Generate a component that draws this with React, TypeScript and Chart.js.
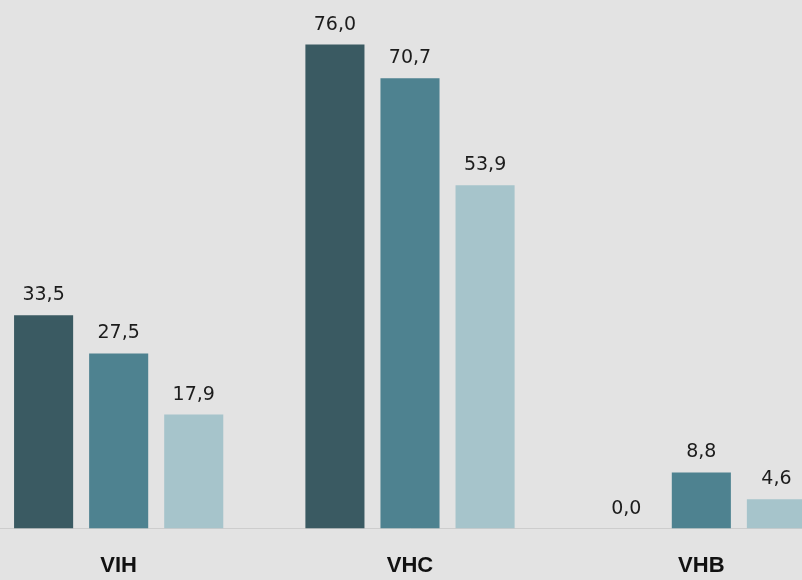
import React, { useEffect, useRef } from "react";
import { Chart, registerables } from "chart.js";

Chart.register(...registerables);

const categories = ["VIH", "VHC", "VHB"];
const series1 = [33.5, 76.0, 0.0];
const series2 = [27.5, 70.7, 8.8];
const series3 = [17.9, 53.9, 4.6];
const seriesNames = ["Série 1", "Série 2", "Série 3"];
const seriesColors = ["#3a5a62", "#4e8290", "#a6c4cb"];

const valueLabels = {
  id: "valueLabels",
  afterDatasetsDraw(chart: any) {
    const ctx = chart.ctx;
    ctx.save();
    ctx.font = '19px "DejaVu Sans"';
    ctx.fillStyle = "#1c1c1c";
    ctx.textAlign = "center";
    ctx.textBaseline = "alphabetic";
    chart.data.datasets.forEach((ds: any, di: number) => {
      const meta = chart.getDatasetMeta(di);
      meta.data.forEach((bar: any, i: number) => {
        const v = ds.data[i] as number;
        const txt = v.toFixed(1).replace(".", ",");
        ctx.fillText(txt, bar.x, bar.y - 15);
      });
    });
    ctx.restore();
  },
};

const bgPlugin = {
  id: "bg",
  beforeDraw(chart: any) {
    const ctx = chart.ctx;
    ctx.save();
    ctx.fillStyle = "#e3e3e3";
    ctx.fillRect(0, 0, chart.width, chart.height);
    ctx.restore();
  },
};

export default function App() {
  const ref = useRef<HTMLCanvasElement | null>(null);
  useEffect(() => {
    if (!ref.current) return;
    const chart = new Chart(ref.current, {
      type: "bar",
      data: {
        labels: categories,
        datasets: [series1, series2, series3].map((d, i) => ({
          label: seriesNames[i],
          data: d,
          backgroundColor: seriesColors[i],
          borderWidth: 0,
          categoryPercentage: 0.773,
          barPercentage: 0.787,
        })),
      },
      options: {
        responsive: false,
        animation: false,
        layout: { padding: 0 },
        plugins: {
          legend: { display: false },
          tooltip: { enabled: false },
        },
        scales: {
          y: {
            display: false,
            min: 0,
            max: 83,
          },
          x: {
            grid: { display: false, drawTicks: false },
            border: { display: true, color: "#cdcdcd", width: 1 },
            ticks: {
              color: "#111111",
              font: { family: '"Liberation Sans"', size: 22, weight: "bold" },
              padding: 24,
            },
            afterFit: (scale: any) => {
              scale.height = 51.5;
            },
          },
        },
      },
      plugins: [bgPlugin, valueLabels],
    });
    return () => chart.destroy();
  }, []);
  return (
    <div
      style={{
        position: "fixed",
        left: 0,
        top: 0,
        width: 802,
        height: 580,
        overflow: "hidden",
        background: "#e3e3e3",
      }}
    >
      <canvas
        ref={ref}
        width={874}
        height={580}
        style={{ position: "absolute", left: -27, top: 0, width: 874, height: 580 }}
      />
    </div>
  );
}
